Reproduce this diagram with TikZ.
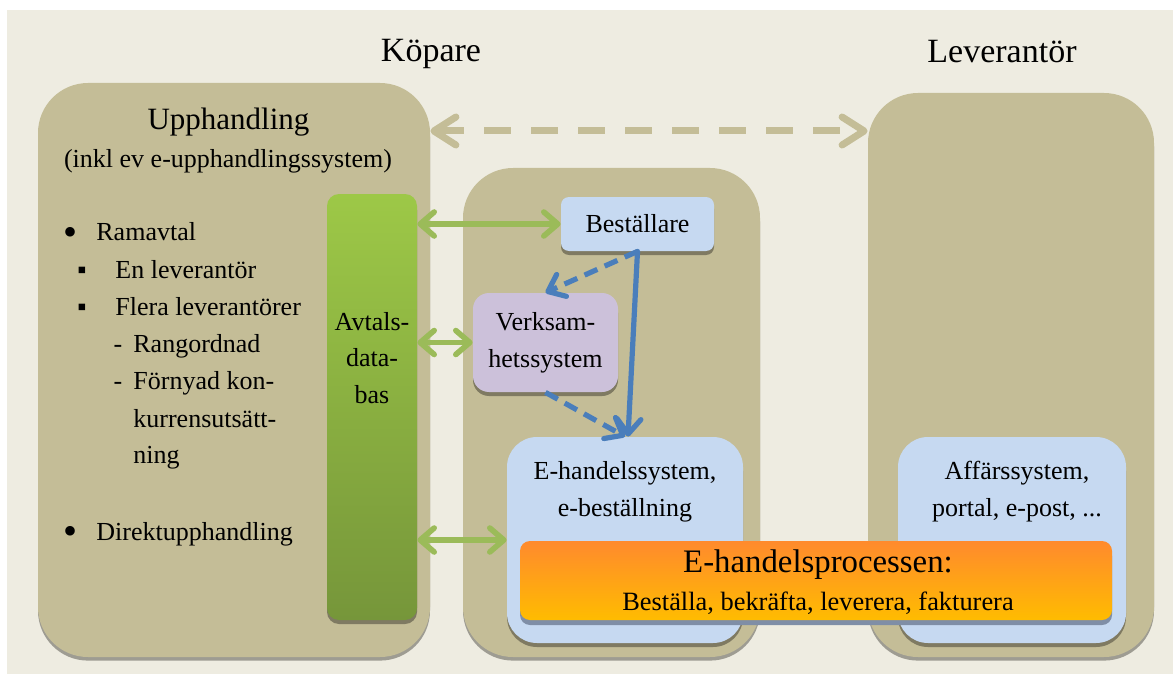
\documentclass[tikz,border=0pt]{standalone}
\usepackage{fontspec}
\setmainfont{Liberation Serif}
\usetikzlibrary{arrows.meta,shadows}
\definecolor{bakgrund}{HTML}{EEECE1}
\definecolor{tan}{HTML}{C4BD97}
\definecolor{tanskugga}{HTML}{9E9C92}
\definecolor{morktan}{HTML}{7F7A62}
\definecolor{ljusbla}{HTML}{C6D9F1}
\definecolor{lila}{HTML}{CCC1DA}
\definecolor{gronljus}{HTML}{9DC847}
\definecolor{gronmork}{HTML}{76963A}
\definecolor{gronpil}{HTML}{9BBB59}
\definecolor{blapil}{HTML}{4A7EBB}
\definecolor{orangetopp}{HTML}{FF8A2D}
\definecolor{orangebotten}{HTML}{FFBC00}
\definecolor{blaskugga}{HTML}{7F8EA6}

\begin{document}
\begin{tikzpicture}[x=0.5pt,y=-0.5pt,line cap=round,line join=round,
  font=\fontsize{13}{18.5}\selectfont,
  ram/.style={fill=tan,rounded corners=25pt,inner sep=0pt,
    general shadow={fill=tanskugga,shadow yshift=-1.8pt}},
  ruta/.style={fill=#1,inner sep=0pt,align=center,
    general shadow={fill=morktan,shadow yshift=-2pt}},
  gronpilstil/.style={gronpil,line width=2.8pt,
    {Straight Barb[round,length=7pt,width=12pt]}-{Straight Barb[round,length=7pt,width=12pt]}},
  blapilstil/.style={blapil,line width=2.6pt,-{Straight Barb[round,length=7.5pt,width=12pt]}},
  punkt/.style={anchor=base,font=\fontsize{20}{20}\selectfont}]
\useasboundingbox (0,0) rectangle (1173,674);
\fill[white] (0,0) rectangle (1173,674);
\fill[bakgrund] (7,10) rectangle (1173,674);
% ramar
\node (upph) [ram,minimum width=196pt,minimum height=287pt] at (234,370) {};
\node (mitt) [ram,minimum width=148.5pt,minimum height=244.5pt] at (611.5,412.5) {};
\node (lev) [ram,minimum width=143pt,minimum height=282pt] at (1011,375) {};
\node (kopare) [anchor=base,font=\fontsize{17}{20}\selectfont] at (431,62) {Köpare};
\node (leverantor) [anchor=base,font=\fontsize{17}{20}\selectfont] at (1002,63) {Leverantör};
\coordinate (streck) at (650,131);
\draw [tan,line width=3.5pt,line cap=butt,dash pattern=on 13.5pt off 10pt,
  {Straight Barb[round,length=11pt,width=14pt]}-{Straight Barb[round,length=11pt,width=14pt]}]
  (upph.east |- streck) -- (lev.west |- streck);
% upphandling
\node (upphtitel) [anchor=base,font=\fontsize{15.5}{18}\selectfont] at (228.5,130) {Upphandling};
\node (inkl) [anchor=base] at (228,168) {(inkl ev e-upphandlingssystem)};
\node (b1) [punkt] at (71,245) {•};
\node (p1) [anchor=base west,inner sep=0pt] at (96,241) {Ramavtal};
\node (b2) [anchor=base] at (82,278) {▪};
\node (p2) [anchor=base west,inner sep=0pt] at (115,278) {En leverantör};
\node (b3) [anchor=base] at (82,315) {▪};
\node (p3) [anchor=base west,inner sep=0pt] at (115,315) {Flera leverantörer};
\node (s1) [anchor=base] at (118,352) {-};
\node (p4) [anchor=base west,inner sep=0pt] at (133,352) {Rangordnad};
\node (s2) [anchor=base] at (118,389) {-};
\node (p5) [anchor=base west,inner sep=0pt] at (133,389) {Förnyad kon-};
\node (p6) [anchor=base west,inner sep=0pt] at (133,427) {kurrensutsätt-};
\node (p7) [anchor=base west,inner sep=0pt] at (133,463) {ning};
\node (b4) [punkt] at (71,544) {•};
\node (p8) [anchor=base west,inner sep=0pt] at (96,540) {Direktupphandling};
% avtalsdatabas
\node (avtal) [inner sep=0pt,rounded corners=6pt,top color=gronljus,bottom color=gronmork,
  minimum width=45pt,minimum height=213pt,
  general shadow={fill=morktan,shadow yshift=-2pt}] at (372,407) {};
\node (avtaltext) [align=center,font=\fontsize{13}{18.3}\selectfont] at (372,358) {Avtals-\\data-\\bas};
% kopare
\node (best) [ruta=ljusbla,rounded corners=4pt,minimum width=76.5pt,minimum height=27pt] at (637.5,224) {Beställare};
\node (verk) [ruta=lila,rounded corners=8pt,minimum width=72.5pt,minimum height=49.5pt] at (545.5,342.5) {Verksam-\\hetssystem};
\node (ehandel) [ruta=ljusbla,rounded corners=15pt,minimum width=118pt,minimum height=103pt] at (625,540) {};
\node (ehtext) [align=center] at (625,492) {E-handelssystem,\\e-beställning};
% leverantor
\node (affar) [ruta=ljusbla,rounded corners=15pt,minimum width=114pt,minimum height=103pt] at (1012,540) {};
\node (aftext) [align=center] at (1017,492) {Affärssystem,\\portal, e-post, ...};
% processen
\node (proc) [inner sep=0pt,rounded corners=5pt,top color=orangetopp,bottom color=orangebotten,
  minimum width=296pt,minimum height=39.5pt,
  general shadow={fill=blaskugga,shadow yshift=-2.5pt}] at (816,580.5) {};
\node (proctitel) [anchor=base,font=\fontsize{16.4}{19}\selectfont] at (818,572) {E-handelsprocessen:};
\node (procsteg) [anchor=base,font=\fontsize{13.2}{15}\selectfont] at (818,610) {Beställa, bekräfta, leverera, fakturera};
% pilar
\draw [gronpilstil] (best.west -| avtal.east) -- (best.west);
\draw [gronpilstil] (verk.west -| avtal.east) -- (verk.west);
\draw [gronpilstil] (ehandel.west -| avtal.east) -- (ehandel.west);
\draw [blapilstil,line cap=butt,dash pattern=on 7pt off 4pt] (best.south) -- (verk.north);
\draw [blapilstil] (best.south) -- ([xshift=1.5pt]ehandel.north);
\draw [blapilstil,line cap=butt,dash pattern=on 7pt off 4pt] (verk.south) -- (ehandel.north);
\end{tikzpicture}
\end{document}
